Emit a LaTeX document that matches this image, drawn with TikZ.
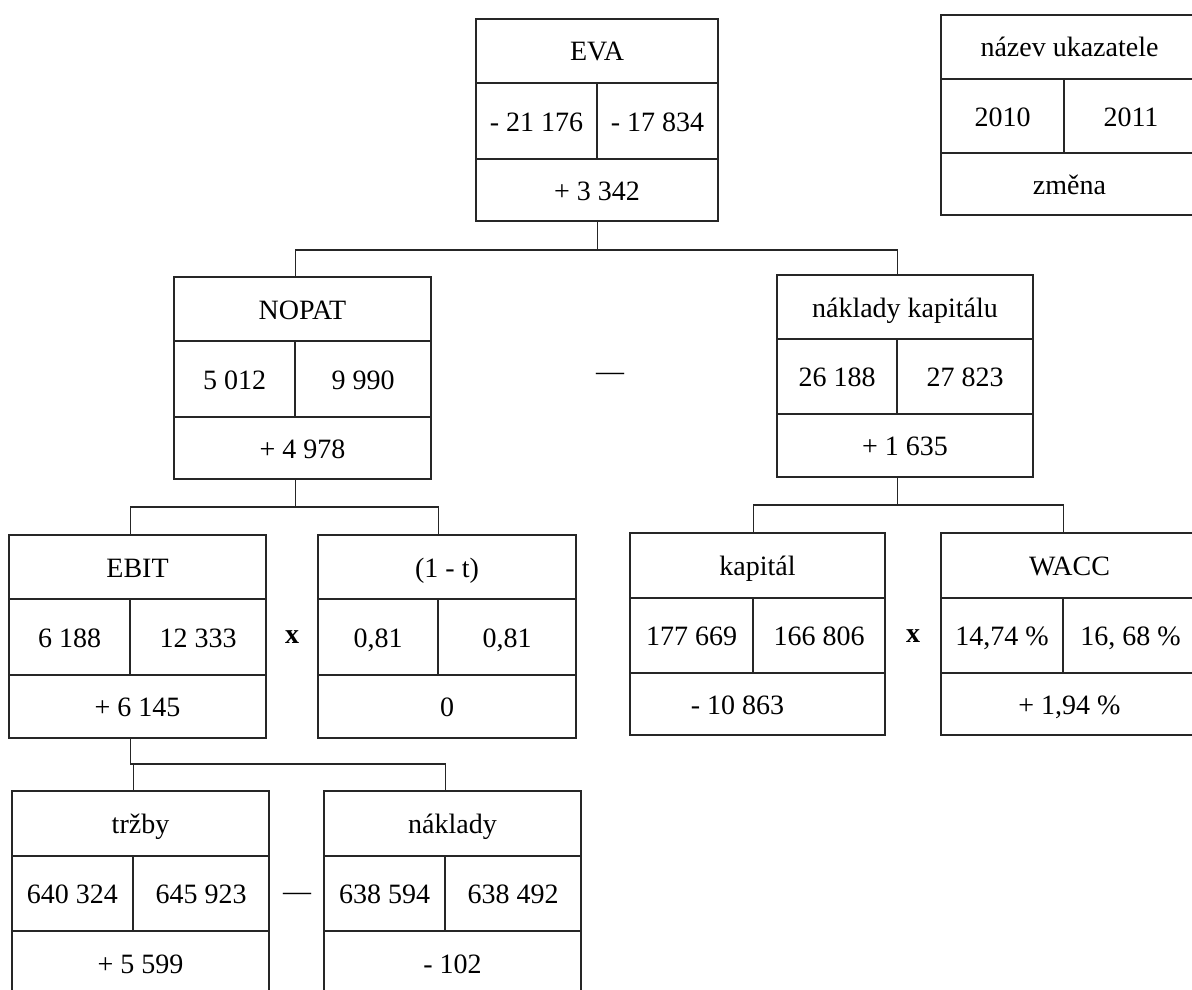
\documentclass[tikz,border=0pt]{standalone}
\usepackage{fontspec}
\setmainfont{Liberation Serif}
\tikzset{
  cellbox/.style={draw=black!85, line width=1.3pt, inner sep=0pt, anchor=center,
    font=\fontsize{28}{32}\selectfont, text height=20pt, text depth=0pt},
  conn/.style={draw=black!85, line width=1.3pt},
  oper/.style={font=\fontsize{28}{32}\selectfont, inner sep=0pt}
}
\newcommand{\mycell}[6]{%
  \pgfmathsetmacro\cw{#4-#2}\pgfmathsetmacro\ch{#5-#3}%
  \node[cellbox, minimum width=\cw pt, minimum height=\ch pt] (#1) at ({(#2+#4)/2},{(#3+#5)/2}) {#6};}
\def\getxs#1,#2,#3\relax{\def\xa{#1}\def\xb{#2}\def\xc{#3}}
\def\getys#1,#2,#3,#4\relax{\def\ya{#1}\def\yb{#2}\def\yc{#3}\def\yd{#4}}
\newcommand{\evabox}[7]{%
  \getxs#2\relax\getys#3\relax
  \mycell{#1t}{\xa}{\ya}{\xc}{\yb}{#4}%
  \mycell{#1l}{\xa}{\yb}{\xb}{\yc}{#5}%
  \mycell{#1r}{\xb}{\yb}{\xc}{\yc}{#6}%
  \mycell{#1b}{\xa}{\yc}{\xc}{\yd}{#7}}
\begin{document}
\begin{tikzpicture}[x=1pt,y=-1pt]
\useasboundingbox (0,0) rectangle (1192,990);
\clip (0,0) rectangle (1192,990);
% boxes
\evabox{eva}{476,597,718}{19,83,159,221}{EVA}{- 21 176}{- 17 834}{+ 3 342}
\evabox{leg}{941,1064,1198}{15,79,153,215}{název ukazatele}{2010}{2011}{změna}
\evabox{nopat}{174,295,431}{277,341,417,479}{NOPAT}{5 012}{9 990}{+ 4 978}
\evabox{nkap}{777,897,1033}{275,339,414,477}{náklady kapitálu}{26 188}{27 823}{+ 1 635}
\evabox{ebit}{9,130,266}{535,599,675,738}{EBIT}{6 188}{12 333}{+ 6 145}
\evabox{tax}{318,438,576}{535,599,675,738}{(1 - t)}{0,81}{0,81}{0}
\evabox{kap}{630,753,885}{533,598,673,735}{kapitál}{177 669}{166 806}{\hspace*{-40pt}- 10 863}
\evabox{wacc}{941,1063,1198}{533,598,673,735}{WACC}{14,74 \%}{16, 68 \%}{+ 1,94 \%}
\evabox{trz}{12,133,269}{791,856,931,996}{tržby}{640 324}{645 923}{+ 5 599}
\evabox{nakl}{324,445,581}{791,856,931,996}{náklady}{638 594}{638 492}{- 102}
% bar levels
\coordinate (bar1) at (0,250);
\coordinate (bar2) at (0,507);
\coordinate (bar3) at (0,505);
\coordinate (bar4) at (0,764);
% connectors
\draw[conn] (evab.south -| eval.east) -- (eval.east |- bar1) -| (nopatt.north -| nopatl.east);
\draw[conn] (eval.east |- bar1) -| (nkapt.north -| nkapl.east);
\draw[conn] (nopatb.south -| nopatl.east) -- (nopatl.east |- bar2) -| (ebitt.north -| ebitl.east);
\draw[conn] (nopatl.east |- bar2) -| (taxt.north -| taxl.east);
\draw[conn] (nkapb.south -| nkapl.east) -- (nkapl.east |- bar3) -| (kapt.north -| kapl.east);
\draw[conn] (nkapl.east |- bar3) -| (wacct.north -| waccl.east);
\draw[conn] (ebitb.south -| ebitl.east) -- (ebitl.east |- bar4) -| (trzt.north -| trzl.east);
\draw[conn] (ebitl.east |- bar4) -| (naklt.north -| nakll.east);
% operators
\node[oper] (op1) at (610,377) {\textemdash};
\node[oper] (op2) at (292,637) {\textbf{x}};
\node[oper] (op3) at (913,636) {\textbf{x}};
\node[oper] (op4) at (297,897) {\textemdash};
\end{tikzpicture}
\end{document}
